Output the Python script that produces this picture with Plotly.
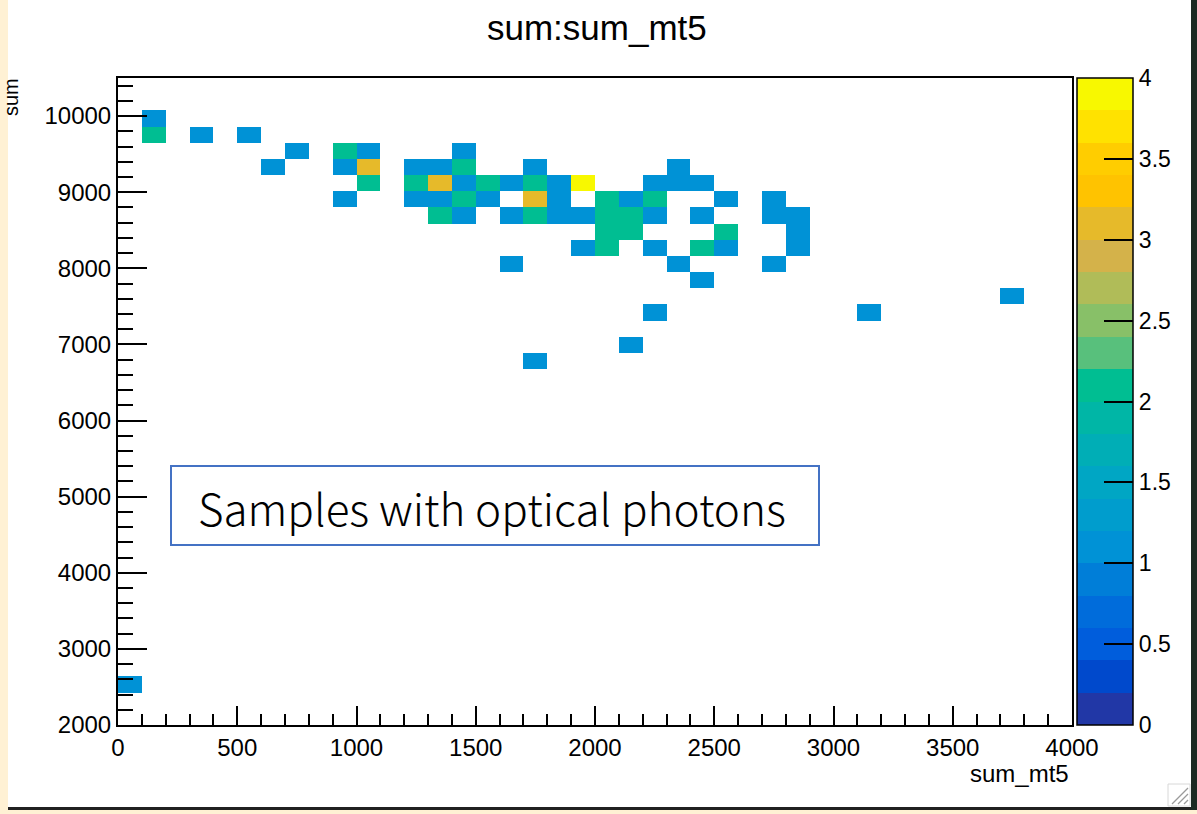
import numpy as np
import plotly.graph_objects as go

# Binning of the 2D histogram: sum (y) vs sum_mt5 (x)
x_lo, x_hi, nx = 0.0, 4000.0, 40
y_lo, y_hi, ny = 2000.0, 10500.0, 40

# Filled bins: bin centre in sum_mt5, bin centre in sum, entries
sum_mt5 = [
    150,
    150, 350, 550,
    750, 950, 1050, 1450,
    650, 950, 1050, 1250, 1350, 1450, 1750, 2350,
    1050, 1250, 1350, 1450, 1550, 1650, 1750, 1850, 1950, 2250, 2350, 2450,
    950, 1250, 1350, 1450, 1550, 1750, 1850, 2050, 2150, 2250, 2550, 2750,
    1350, 1450, 1650, 1750, 1850, 1950, 2050, 2150, 2250, 2450, 2750, 2850,
    2050, 2150, 2550, 2850,
    1950, 2050, 2250, 2450, 2550, 2850,
    1650, 2350, 2750,
    2450,
    3750,
    2250, 3150,
    2150,
    1750,
    50,
]
sum_val = [
    9968.75,
    9756.25, 9756.25, 9756.25,
    9543.75, 9543.75, 9543.75, 9543.75,
    9331.25, 9331.25, 9331.25, 9331.25, 9331.25, 9331.25, 9331.25, 9331.25,
    9118.75, 9118.75, 9118.75, 9118.75, 9118.75, 9118.75, 9118.75, 9118.75, 9118.75, 9118.75, 9118.75, 9118.75,
    8906.25, 8906.25, 8906.25, 8906.25, 8906.25, 8906.25, 8906.25, 8906.25, 8906.25, 8906.25, 8906.25, 8906.25,
    8693.75, 8693.75, 8693.75, 8693.75, 8693.75, 8693.75, 8693.75, 8693.75, 8693.75, 8693.75, 8693.75, 8693.75,
    8481.25, 8481.25, 8481.25, 8481.25,
    8268.75, 8268.75, 8268.75, 8268.75, 8268.75, 8268.75,
    8056.25, 8056.25, 8056.25,
    7843.75,
    7631.25,
    7418.75, 7418.75,
    6993.75,
    6781.25,
    2531.25,
]
entries = [
    1,
    2, 1, 1,
    1, 2, 1, 1,
    1, 1, 3, 1, 1, 2, 1, 1,
    2, 2, 3, 1, 2, 1, 2, 1, 4, 1, 1, 1,
    1, 1, 1, 2, 1, 3, 1, 2, 1, 2, 1, 1,
    2, 1, 1, 2, 1, 1, 2, 2, 1, 1, 1, 1,
    2, 2, 2, 1,
    1, 2, 1, 2, 1, 1,
    1, 1, 1,
    1,
    1,
    1, 1,
    1,
    1,
    1,
]

# Colour palette (20 contour levels between 0 and 4)
palette = [
    "#2137a6", "#0049cc", "#005ddc", "#006cdb", "#007ed8",
    "#0092d6", "#009dcd", "#00a6c4", "#00aeb6", "#00b6a6",
    "#00be92", "#58c07c", "#88c068", "#b0bc58", "#d4b24a",
    "#e6ba2a", "#ffc300", "#ffcd00", "#ffe200", "#f8f800",
]

# ---- build the histogram grid ----
dx = (x_hi - x_lo) / nx
dy = (y_hi - y_lo) / ny
xc = x_lo + (np.arange(nx) + 0.5) * dx
yc = y_lo + (np.arange(ny) + 0.5) * dy
z = np.full((ny, nx), np.nan)
for xv, yv, n in zip(sum_mt5, sum_val, entries):
    i = int((xv - x_lo) // dx)
    j = int((yv - y_lo) // dy)
    z[j, i] = n

ncol = len(palette)
colorscale = []
for k, c in enumerate(palette):
    lo = k / ncol
    hi = (k + 1) / ncol
    colorscale.append([lo, c])
    colorscale.append([hi if k == ncol - 1 else hi - 1e-6, c])

# ---- page geometry (pixels) ----
W, H = 1197, 814
L, R, T, B = 118, 1072, 78, 725
pw, ph = R - L, B - T


def px(x):
    return (x - L) / pw


def py(y):
    return (B - y) / ph


fig = go.Figure()
fig.add_trace(go.Heatmap(
    x=xc, y=yc, z=z,
    zmin=0, zmax=4,
    colorscale=colorscale,
    hoverongaps=False,
    colorbar=dict(
        x=px(1077), xanchor="left", xpad=0,
        y=0.5, yanchor="middle", ypad=0,
        len=1.0, lenmode="fraction",
        thickness=56, thicknessmode="pixels",
        outlinewidth=1.5, outlinecolor="black",
        tickmode="array",
        tickvals=[0, 0.5, 1, 1.5, 2, 2.5, 3, 3.5, 4],
        ticktext=["0", "0.5", "1", "1.5", "2", "2.5", "3", "3.5", "4"],
        ticks="inside", ticklen=29, tickwidth=1.5, tickcolor="black",
        tickfont=dict(family="Liberation Sans, Arial", size=23, color="black"),
    ),
))

font_ax = dict(family="Liberation Sans, Arial", size=24, color="black")

fig.update_xaxes(
    range=[x_lo, x_hi],
    tickmode="array",
    tickvals=[0, 500, 1000, 1500, 2000, 2500, 3000, 3500, 4000],
    ticktext=["0", "500", "1000", "1500", "2000", "2500", "3000", "3500", "4000"],
    ticks="inside", ticklen=19, tickwidth=1.5, tickcolor="black",
    minor=dict(dtick=100, ticks="inside", ticklen=11, tickwidth=1.5, tickcolor="black", showgrid=False),
    showgrid=False, zeroline=False,
    showline=True, linecolor="black", linewidth=2, mirror=True,
    tickfont=dict(family="Liberation Sans Narrow, Liberation Sans, Arial", size=24, color="black"),
)
fig.update_yaxes(
    range=[y_lo, y_hi],
    tickmode="array",
    tickvals=[2000, 3000, 4000, 5000, 6000, 7000, 8000, 9000, 10000],
    ticktext=["2000", "3000", "4000", "5000", "6000", "7000", "8000", "9000", "10000"],
    ticks="inside", ticklen=29, tickwidth=1.5, tickcolor="black",
    minor=dict(dtick=200, ticks="inside", ticklen=15, tickwidth=1.5, tickcolor="black", showgrid=False),
    showgrid=False, zeroline=False,
    showline=True, linecolor="black", linewidth=2, mirror=True,
    tickfont=font_ax,
)

shapes = [
    # text box outline
    dict(type="rect", xref="paper", yref="paper",
         x0=px(171), x1=px(819), y0=py(545), y1=py(466),
         line=dict(color="#4472c4", width=2), fillcolor="white"),
    # window frame: cream strips and dark edges
    dict(type="rect", xref="paper", yref="paper",
         x0=px(0), x1=px(8), y0=py(H), y1=py(0),
         line=dict(width=0), fillcolor="#fff1d4", layer="below"),
    dict(type="rect", xref="paper", yref="paper",
         x0=px(0), x1=px(W), y0=py(H), y1=py(810),
         line=dict(width=0), fillcolor="#fff1d4"),
    dict(type="rect", xref="paper", yref="paper",
         x0=px(8), x1=px(1193), y0=py(810), y1=py(807),
         line=dict(width=0), fillcolor="#202020"),
    dict(type="rect", xref="paper", yref="paper",
         x0=px(1191), x1=px(W), y0=py(810), y1=py(0),
         line=dict(width=0), fillcolor="#1c2a22"),
]
# resize grip in the corner
for k in range(3):
    off = 6 * k
    shapes.append(dict(type="line", xref="paper", yref="paper",
                       x0=px(1172 + off), y0=py(804), x1=px(1188), y1=py(788 + off),
                       line=dict(color="#9a9a9a", width=1.2)))
shapes.append(dict(type="rect", xref="paper", yref="paper",
                   x0=px(1168), x1=px(1190), y0=py(806), y1=py(784),
                   line=dict(color="#d8d8d8", width=1), fillcolor="rgba(0,0,0,0)"))

annotations = [
    dict(text="sum:sum_mt5", xref="paper", yref="paper",
         x=px(597), y=py(27), xanchor="center", yanchor="middle",
         showarrow=False, font=dict(family="Liberation Sans, Arial", size=35, color="black")),
    dict(text="sum_mt5", xref="paper", yref="paper",
         x=px(1071), y=py(773), xanchor="right", yanchor="middle",
         showarrow=False, font=dict(family="Liberation Sans Narrow, Liberation Sans, Arial", size=24, color="black")),
    dict(text="sum", xref="paper", yref="paper",
         x=px(11), y=py(97), xanchor="center", yanchor="middle", textangle=-90,
         showarrow=False, font=dict(family="Liberation Sans, Arial", size=20, color="black")),
    dict(text="Samples with optical photons", xref="paper", yref="paper",
         x=px(492), y=py(507), xanchor="center", yanchor="middle",
         showarrow=False, font=dict(family="Noto Sans CJK SC, Noto Sans", size=44, weight=300, color="black")),
]

fig.update_layout(
    width=W, height=H,
    margin=dict(l=L, r=W - R, t=T, b=H - B, pad=0, autoexpand=False),
    paper_bgcolor="white", plot_bgcolor="white",
    shapes=shapes, annotations=annotations,
    showlegend=False,
)

fig.write_html("out.html")
